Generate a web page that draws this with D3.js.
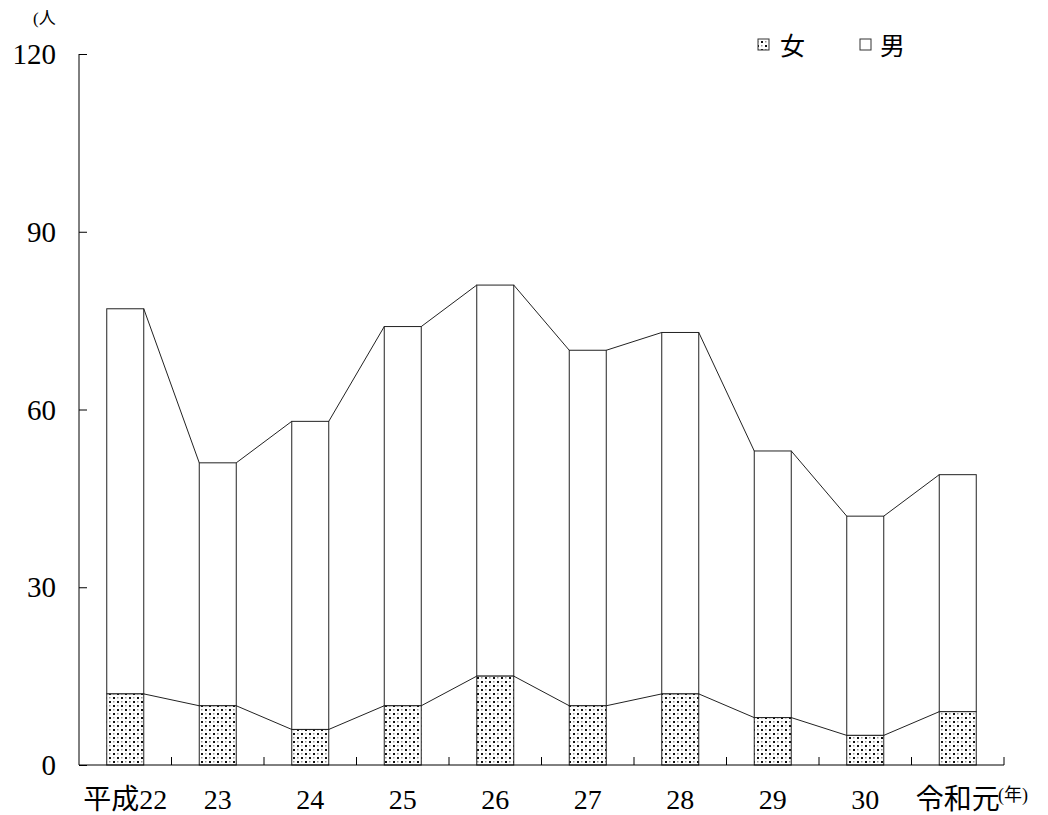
<!DOCTYPE html>
<html><head><meta charset="utf-8">
<script src="https://cdn.jsdelivr.net/npm/d3@7"></script>
<style>body{margin:0;background:#fff}svg{display:block}</style>
</head><body><svg id="c" width="1048" height="815"></svg>
<script>
const categories = ["平成22","23","24","25","26","27","28","29","30","令和元"];
const female = [12,10,6,10,15,10,12,8,5,9];
const male = [65,41,52,64,66,60,61,45,37,40];
const yTicks = [0,30,60,90,120];

const svg = d3.select("#c");
const font = "Liberation Serif, DejaVu Serif, Noto Sans CJK JP, serif";
const m = {l:79, r:1004, t:54, b:765};
const x = d3.scaleBand().domain(categories).range([m.l, m.r]).paddingInner(0.6).paddingOuter(0.3);
const xo = d3.scaleBand().domain(categories).range([m.l, m.r]);
const y = d3.scaleLinear().domain([0,120]).range([m.b, m.t]);

const defs = svg.append("defs");
const p = defs.append("pattern").attr("id","dots").attr("patternUnits","userSpaceOnUse").attr("width",8).attr("height",8);
p.append("rect").attr("width",8).attr("height",8).attr("fill","#fff");
p.append("rect").attr("x",1).attr("y",1).attr("width",2).attr("height",2).attr("fill","#111");
p.append("rect").attr("x",5).attr("y",5).attr("width",2).attr("height",2).attr("fill","#111");
p.append("rect").attr("x",5).attr("y",1).attr("width",1.5).attr("height",1.5).attr("fill","#999");
p.append("rect").attr("x",1).attr("y",5).attr("width",1.5).attr("height",1.5).attr("fill","#999");

const totals = female.map((f,i)=>f+male[i]);
const bw = x.bandwidth();

// bars
categories.forEach((c,i)=>{
  svg.append("rect").attr("x",x(c)).attr("y",y(totals[i])).attr("width",bw).attr("height",y(female[i])-y(totals[i]))
    .attr("fill","#fff").attr("stroke","#222").attr("stroke-width",1);
  svg.append("rect").attr("x",x(c)).attr("y",y(female[i])).attr("width",bw).attr("height",y(0)-y(female[i]))
    .attr("fill","url(#dots)").attr("stroke","#222").attr("stroke-width",1);
});
// series lines
for(let i=0;i<categories.length-1;i++){
  const x1 = x(categories[i])+bw, x2 = x(categories[i+1]);
  [female, totals].forEach(arr=>{
    svg.append("line").attr("x1",x1).attr("y1",y(arr[i])).attr("x2",x2).attr("y2",y(arr[i+1]))
      .attr("stroke","#222").attr("stroke-width",1);
  });
}

// y axis
const ya = svg.append("g").attr("transform",`translate(${m.l},0)`)
  .call(d3.axisRight(y).tickValues(yTicks).tickSize(8).tickFormat(""));
ya.select(".domain").attr("d",`M0,${m.t}V${m.b}`).attr("stroke","#000");
ya.selectAll(".tick line").attr("stroke","#000");
yTicks.forEach(t=>{
  svg.append("text").attr("x",56).attr("y",y(t)+10).attr("text-anchor","end")
    .attr("font-family",font).attr("font-size",29).text(t);
});

// x axis
svg.append("line").attr("x1",m.l).attr("x2",m.r).attr("y1",m.b).attr("y2",m.b).attr("stroke","#000");
categories.forEach((c,i)=>{
  const bx = xo(c)+xo.bandwidth();
  svg.append("line").attr("x1",bx).attr("x2",bx).attr("y1",m.b).attr("y2",m.b-8).attr("stroke","#000");
  svg.append("text").attr("x",x(c)+bw/2).attr("y",809).attr("text-anchor","middle")
    .attr("font-family",font).attr("font-size",28).text(c);
});

// units
svg.append("text").attr("x",33).attr("y",24).attr("font-family",font).attr("font-size",17).text("(人");
svg.append("text").attr("x",998).attr("y",801).attr("font-family",font).attr("font-size",18).text("(年)");

// legend
svg.append("rect").attr("x",758).attr("y",39).attr("width",11).attr("height",11).attr("fill","url(#dots)").attr("stroke","#333");
svg.append("text").attr("x",780).attr("y",55).attr("font-family",font).attr("font-size",25).text("女");
svg.append("rect").attr("x",860).attr("y",39).attr("width",11).attr("height",11).attr("fill","#fff").attr("stroke","#333");
svg.append("text").attr("x",880).attr("y",55).attr("font-family",font).attr("font-size",25).text("男");
</script></body></html>
